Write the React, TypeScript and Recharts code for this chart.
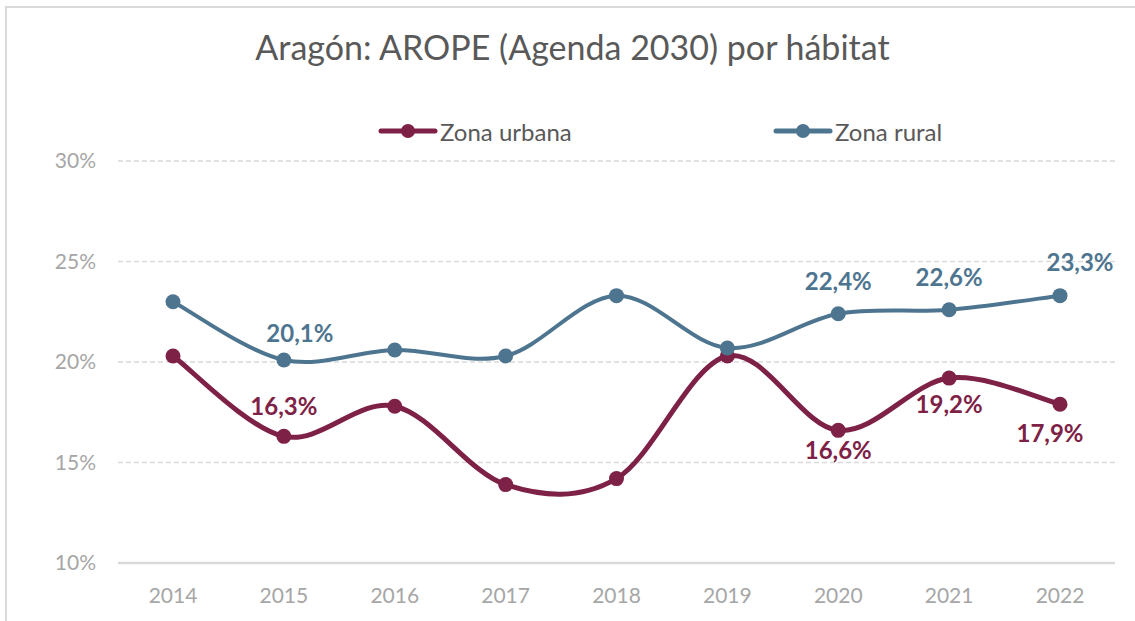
import React from "react";
import { LineChart, Line, XAxis, YAxis, CartesianGrid, LabelList } from "recharts";

const years = ["2014", "2015", "2016", "2017", "2018", "2019", "2020", "2021", "2022"];
const urbana = [20.3, 16.3, 17.8, 13.9, 14.2, 20.3, 16.6, 19.2, 17.9];
const rural = [23.0, 20.1, 20.6, 20.3, 23.3, 20.7, 22.4, 22.6, 23.3];
const yTicks = [10, 15, 20, 25, 30];

const URBAN = "#7e2146";
const RURAL = "#4e7590";
const FONT = "Lato, 'Open Sans', sans-serif";

// which points carry a data label, and where it sits relative to the dot
const urbanLabels: Record<number, { dx: number; dy: number }> = {
  1: { dx: 0, dy: -31 },
  6: { dx: 0, dy: 19 },
  7: { dx: 0, dy: 25 },
  8: { dx: -10, dy: 28 },
};
const ruralLabels: Record<number, { dx: number; dy: number }> = {
  1: { dx: 16, dy: -27 },
  6: { dx: 0, dy: -33 },
  7: { dx: 0, dy: -33 },
  8: { dx: 20, dy: -34 },
};

const data = years.map((year, i) => ({ year, urbana: urbana[i], rural: rural[i] }));

// Excel-style smoothed line (Catmull-Rom through the points)
const excelCurve = (context: any) => {
  let pts: number[][] = [];
  return {
    areaStart() {},
    areaEnd() {},
    lineStart() {
      pts = [];
    },
    point(x: number, y: number) {
      pts.push([+x, +y]);
    },
    lineEnd() {
      if (!pts.length) return;
      context.moveTo(pts[0][0], pts[0][1]);
      for (let i = 0; i < pts.length - 1; i++) {
        const p0 = pts[i - 1] || pts[i];
        const p1 = pts[i];
        const p2 = pts[i + 1];
        const p3 = pts[i + 2] || pts[i + 1];
        context.bezierCurveTo(
          p1[0] + (p2[0] - p0[0]) / 6,
          p1[1] + (p2[1] - p0[1]) / 6,
          p2[0] - (p3[0] - p1[0]) / 6,
          p2[1] - (p3[1] - p1[1]) / 6,
          p2[0],
          p2[1]
        );
      }
    },
  };
};

const fmt = (v: number) => v.toFixed(1).replace(".", ",") + "%";

const makeLabel = (color: string, spots: Record<number, { dx: number; dy: number }>) => (props: any) => {
  const { x, y, value, index } = props;
  const spot = spots[index];
  if (!spot) return null;
  return (
    <text
      x={x + spot.dx}
      y={y + spot.dy}
      textAnchor="middle"
      dominantBaseline="central"
      fill={color}
      fontSize={24}
      fontWeight={700}
      fontFamily={FONT}
    >
      {fmt(value)}
    </text>
  );
};

const legendItems = [
  { name: "Zona urbana", color: URBAN, left: 378 },
  { name: "Zona rural", color: RURAL, left: 773 },
];

export default function App() {
  return (
    <div style={{ position: "fixed", left: 0, top: 0, width: 1135, height: 621, overflow: "hidden", background: "#fff" }}>
      <div
        style={{
          position: "absolute",
          left: 5,
          top: 6,
          width: 1150,
          height: 640,
          borderLeft: "2px solid #d9d9d9",
          borderTop: "2px solid #d9d9d9",
        }}
      />
      <div
        style={{
          position: "absolute",
          left: 0,
          top: 26,
          width: 1145,
          textAlign: "center",
          fontFamily: FONT,
          fontSize: 34,
          color: "#595959",
        }}
      >
        Aragón: AROPE (Agenda 2030) por hábitat
      </div>
      {legendItems.map((it) => (
        <div
          key={it.name}
          style={{ position: "absolute", left: it.left, top: 116, display: "flex", alignItems: "center", height: 30 }}
        >
          <svg width={60} height={16}>
            <line x1={3} y1={8} x2={57} y2={8} stroke={it.color} strokeWidth={5} strokeLinecap="round" />
            <circle cx={30} cy={8} r={7} fill={it.color} />
          </svg>
          <span style={{ fontFamily: FONT, fontSize: 24, color: "#595959", marginLeft: 2 }}>{it.name}</span>
        </div>
      ))}
      <div style={{ position: "absolute", left: 0, top: 0 }}>
        <LineChart width={1135} height={621} data={data} margin={{ top: 161, right: 20, bottom: 0, left: 58 }}>
          <CartesianGrid horizontal vertical={false} stroke="#d9d9d9" strokeDasharray="5 3" strokeWidth={1.5} />
          <XAxis
            dataKey="year"
            padding={{ left: 55, right: 55 }}
            axisLine={{ stroke: "#d9d9d9", strokeWidth: 2.5 }}
            tickLine={false}
            tickMargin={19}
            height={58}
            tick={{ fill: "#a6a6a6", fontSize: 21, fontFamily: FONT }}
          />
          <YAxis
            domain={[10, 30]}
            ticks={yTicks}
            tickFormatter={(v: number) => v + "%"}
            axisLine={false}
            tickLine={false}
            tickMargin={16}
            width={60}
            tick={{ fill: "#a6a6a6", fontSize: 21, fontFamily: FONT }}
          />
          <Line
            dataKey="urbana"
            name="Zona urbana"
            type={excelCurve as any}
            stroke={URBAN}
            strokeWidth={5}
            dot={{ r: 7.5, fill: URBAN, stroke: URBAN, strokeWidth: 0 }}
            activeDot={false}
            isAnimationActive={false}
          >
            <LabelList dataKey="urbana" content={makeLabel(URBAN, urbanLabels)} />
          </Line>
          <Line
            dataKey="rural"
            name="Zona rural"
            type={excelCurve as any}
            stroke={RURAL}
            strokeWidth={4}
            dot={{ r: 7.5, fill: RURAL, stroke: RURAL, strokeWidth: 0 }}
            activeDot={false}
            isAnimationActive={false}
          >
            <LabelList dataKey="rural" content={makeLabel(RURAL, ruralLabels)} />
          </Line>
        </LineChart>
      </div>
    </div>
  );
}
